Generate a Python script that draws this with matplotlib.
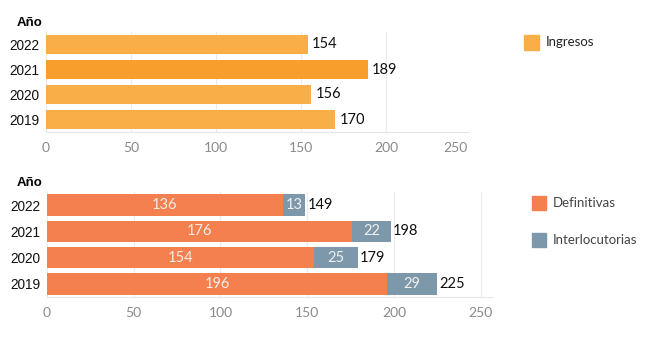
import matplotlib
matplotlib.use("Agg")
import matplotlib.pyplot as plt
from matplotlib.patches import Rectangle

years = ["2019", "2020", "2021", "2022"]
ingresos = [170, 156, 189, 154]
definitivas = [196, 154, 176, 136]
interlocutorias = [29, 25, 22, 13]
ticks_top = [0, 50, 100, 150, 200, 250]
ticks_bot = [0, 50, 100, 150, 200, 250]

W, H = 664, 352
fig = plt.figure(figsize=(W / 100, H / 100), dpi=100)

def ax_rect(l, r, t, b):
    return [l / W, 1 - b / H, (r - l) / W, (b - t) / H]

NUM_FONT = ["Lato", "DejaVu Sans"]
YR_FONT = ["Liberation Sans", "DejaVu Sans"]
GRID = "#ececec"
TICKC = "#8a8a8a"

def style(ax, xmax, ticks):
    ax.set_xlim(0, xmax)
    ax.set_ylim(-0.5, 3.5)
    for s in ["top", "right", "left"]:
        ax.spines[s].set_visible(False)
    ax.spines["bottom"].set_color("#e6e6e6")
    ax.set_xticks([t for t in ticks if t <= xmax])
    ax.set_xticklabels([str(t) for t in ticks if t <= xmax], color=TICKC,
                       fontsize=10, family=NUM_FONT)
    ax.tick_params(axis="x", length=0, pad=7)
    ax.tick_params(axis="y", length=0, pad=4.5)
    ax.set_yticks(range(len(years)))
    ax.set_yticklabels(years, fontsize=9.8, family=YR_FONT, color="#111111")
    ax.grid(axis="x", color=GRID, linewidth=0.8)
    ax.set_axisbelow(True)

# Top chart
ax1 = fig.add_axes(ax_rect(46, 468, 32, 132))
cols = ["#F9AE48" if y != "2021" else "#F89E2D" for y in years]
ax1.barh(range(len(years)), ingresos, height=0.76, color=cols)
style(ax1, 248, ticks_top)
ax1.text(1.0, -0.16, str(ticks_top[-1]), transform=ax1.transAxes, ha="right",
         va="center", color=TICKC, fontsize=10, family=NUM_FONT)
for i, v in enumerate(ingresos):
    ax1.annotate(str(v), (v, i), xytext=(3, 0), textcoords="offset points",
                 va="center", ha="left", fontsize=10.5, family=NUM_FONT, color="#111111")
fig.text(17 / W, 1 - 23 / H, "Año", fontsize=9.5, fontweight="bold",
         family=YR_FONT, va="center", ha="left")

# Bottom chart
ax2 = fig.add_axes(ax_rect(47, 492, 192, 297))
pos = range(len(years))
ax2.barh(pos, definitivas, height=0.81, color="#F4804F")
ax2.barh(pos, interlocutorias, left=definitivas, height=0.81, color="#7C98AA")
style(ax2, 256.5, ticks_bot)
for i, (d, it) in enumerate(zip(definitivas, interlocutorias)):
    ax2.text(d / 2, i, str(d), ha="center", va="center", color="#F6ECE6",
             fontsize=10.5, family=NUM_FONT)
    ax2.text(d + it / 2, i, str(it), ha="center", va="center", color="#F0F0F0",
             fontsize=10.5, family=NUM_FONT)
    ax2.annotate(str(d + it), (d + it, i), xytext=(1.5, 0), textcoords="offset points",
                 va="center", ha="left", fontsize=10.5, family=NUM_FONT, color="#111111")
fig.text(17 / W, 1 - 183 / H, "Año", fontsize=9.5, fontweight="bold",
         family=YR_FONT, va="center", ha="left")

# Legends
def legend_item(x, y, w, color, label, tcolor):
    fig.patches.append(Rectangle((x / W, 1 - (y + w) / H), w / W, w / H,
                                 transform=fig.transFigure, color=color))
    fig.text((x + w + 7) / W, 1 - (y + w / 2) / H, label, fontsize=9.5,
             family=NUM_FONT, va="center", ha="left", color=tcolor)

legend_item(524, 35, 15, "#F9AE48", "Ingresos", "#222222")
legend_item(532, 196, 14, "#F4804F", "Definitivas", "#444444")
legend_item(532, 233, 14, "#7C98AA", "Interlocutorias", "#444444")

fig.savefig("out.png", dpi=100)
